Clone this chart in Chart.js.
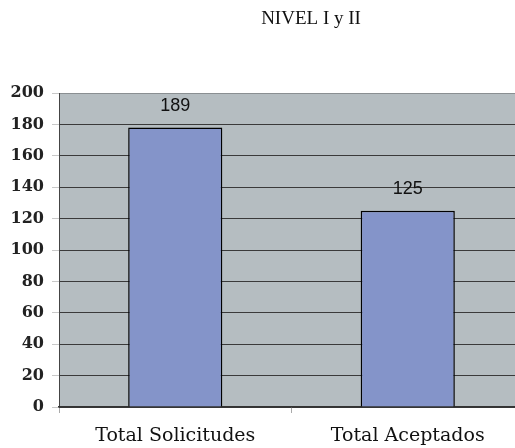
<!DOCTYPE html>
<html>
<head>
<meta charset="utf-8">
<script src="https://cdn.jsdelivr.net/npm/chart.js@4/dist/chart.umd.min.js"></script>
<style>
  html, body { margin: 0; padding: 0; background: #fff; overflow: hidden; }
  #wrap { width: 530px; height: 448px; }
</style>
</head>
<body>
<div id="wrap"><canvas id="nivelChart" width="530" height="448"></canvas></div>
<script>
const categorias = ["Total Solicitudes", "Total Aceptados"];
const valores = [178, 125];
const etiquetas = ["189", "125"];
const titulo = "NIVEL I y II";

// fondo gris del area del grafico, titulo y etiquetas de valor
const decoracion = {
  id: "decoracion",
  beforeDraw(chart) {
    const { ctx, chartArea } = chart;
    ctx.save();
    ctx.fillStyle = "#b5bdc1";
    ctx.fillRect(chartArea.left, chartArea.top, chartArea.right - chartArea.left, chartArea.bottom - chartArea.top);
    ctx.restore();
  },
  afterDatasetsDraw(chart) {
    const { ctx } = chart;
    const meta = chart.getDatasetMeta(0);
    ctx.save();
    ctx.fillStyle = "#111";
    ctx.font = "18px 'Liberation Sans', Arial, sans-serif";
    ctx.textAlign = "center";
    ctx.textBaseline = "middle";
    meta.data.forEach((bar, i) => {
      ctx.fillText(etiquetas[i], bar.x, bar.y - 22);
    });
    ctx.font = "19px 'Liberation Serif', 'Times New Roman', serif";
    ctx.fillStyle = "#111";
    ctx.fillText(titulo, 311, 19);
    ctx.restore();
  }
};

new Chart(document.getElementById("nivelChart"), {
  type: "bar",
  data: {
    labels: categorias,
    datasets: [{
      data: valores,
      backgroundColor: "#8494c9",
      borderColor: "#000",
      borderWidth: 1.5,
      barPercentage: 0.405,
      categoryPercentage: 1
    }]
  },
  options: {
    responsive: false,
    animation: false,
    layout: { padding: { top: 93, right: 6, left: 0, bottom: 0 } },
    plugins: {
      legend: { display: false },
      tooltip: { enabled: false },
      title: { display: false }
    },
    scales: {
      y: {
        min: 0,
        max: 200,
        ticks: {
          stepSize: 20,
          color: "#222",
          padding: 8,
          font: { family: "'DejaVu Serif', serif", size: 16, weight: "bold" }
        },
        grid: {
          color: (c) => (c.tick && c.tick.value === 200 ? "#8a8f92" : "#3a3a3a"),
          tickColor: "#c8c8c8",
          tickLength: 7,
          lineWidth: 1
        },
        border: { color: "#444", width: 1 },
        afterFit(scale) { scale.width = 59; }
      },
      x: {
        ticks: {
          color: "#111",
          padding: 12,
          font: { family: "'DejaVu Serif', serif", size: 19 }
        },
        grid: {
          offset: true,
          drawOnChartArea: false,
          tickColor: "#aaa",
          tickLength: 6
        },
        border: { color: "#333", width: 1.5 },
        afterFit(scale) { scale.height = 41; }
      }
    }
  },
  plugins: [decoracion]
});
</script>
</body>
</html>
